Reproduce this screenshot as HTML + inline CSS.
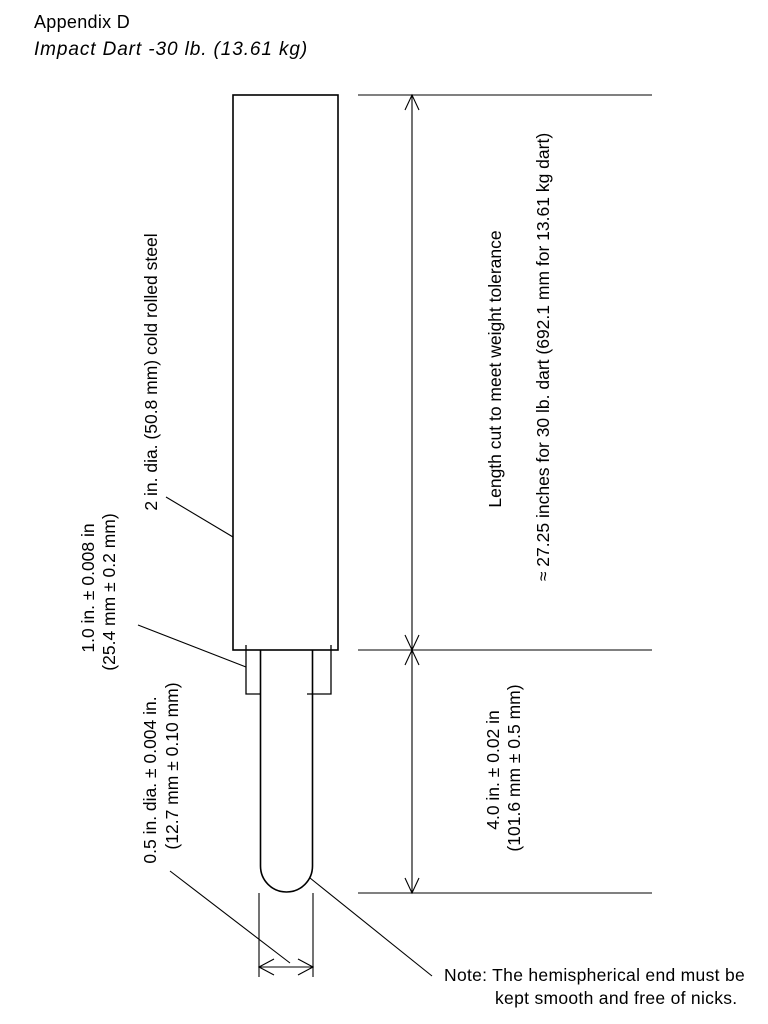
<!DOCTYPE html>
<html><head><meta charset="utf-8"><style>
html,body{margin:0;padding:0;background:#fff;}
svg{display:block;}
text{font-family:"Liberation Sans",Arial,sans-serif;fill:#000;}
</style></head><body>
<svg width="768" height="1024" viewBox="0 0 768 1024" xmlns="http://www.w3.org/2000/svg">
<text x="34" y="28" font-size="18" letter-spacing="0.3">Appendix D</text>
<text x="34" y="55" font-size="19" font-style="italic" letter-spacing="0.9">Impact Dart -30 lb. (13.61 kg)</text>

<g stroke="#000" fill="none" stroke-width="1.6">
<rect x="233" y="95" width="105" height="555"/>
<path d="M260.5 650 V866 A26 26 0 0 0 312.5 866 V650"/>
<path d="M246 645 V694 H260 M307 694 H331 V645" stroke-width="1.3"/>
</g>
<g stroke="#000" fill="none" stroke-width="1.1">
<line x1="358" y1="95" x2="652" y2="95"/>
<line x1="358" y1="650" x2="652" y2="650"/>
<line x1="358" y1="893" x2="652" y2="893"/>
<line x1="412" y1="95" x2="412" y2="893"/>
<path d="M405 110 L412 95 L419 110 M405 635 L412 650 L419 635 M405 665 L412 650 L419 665 M405 878 L412 893 L419 878"/>
<line x1="259" y1="893" x2="259" y2="977"/>
<line x1="313" y1="893" x2="313" y2="977"/>
<line x1="259" y1="967" x2="313" y2="967"/>
<path d="M274 959 L259 967 L274 975 M298 959 L313 967 L298 975"/>
<line x1="166" y1="497" x2="233" y2="537"/>
<line x1="138" y1="625" x2="246" y2="667"/>
<line x1="170" y1="871" x2="290" y2="963"/>
<line x1="310" y1="878" x2="432" y2="976"/>
</g>

<g font-size="17.5" text-anchor="middle">
<text transform="translate(157,372) rotate(-90)">2 in. dia. (50.8 mm) cold rolled steel</text>
<text transform="translate(94,588) rotate(-90)">1.0 in. ± 0.008 in</text>
<text transform="translate(115,592) rotate(-90)">(25.4 mm ± 0.2 mm)</text>
<text transform="translate(156,780) rotate(-90)">0.5 in. dia. ± 0.004 in.</text>
<text transform="translate(178,766) rotate(-90)">(12.7 mm ± 0.10 mm)</text>
<text transform="translate(501,369) rotate(-90)">Length cut to meet weight tolerance</text>
<text transform="translate(549,357) rotate(-90)">≈ 27.25 inches for 30 lb. dart (692.1 mm for 13.61 kg dart)</text>
<text transform="translate(499,770) rotate(-90)">4.0 in. ± 0.02 in</text>
<text transform="translate(520,768) rotate(-90)">(101.6 mm ± 0.5 mm)</text>
</g>
<text x="444" y="981" font-size="17.5" letter-spacing="0.3">Note:  The hemispherical end must be</text>
<text x="495" y="1004" font-size="17.5" letter-spacing="0.3">kept smooth and free of nicks.</text>
</svg>
</body></html>
